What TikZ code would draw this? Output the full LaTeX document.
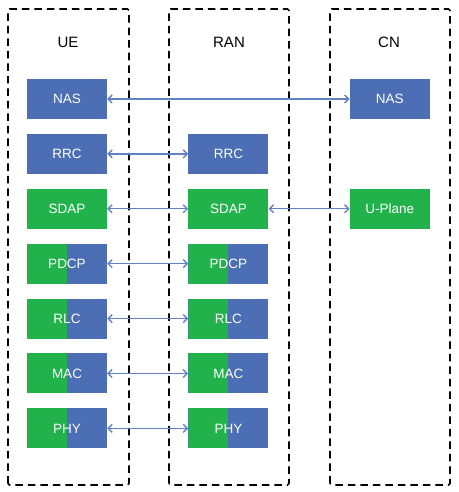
\documentclass[tikz,border=0pt]{standalone}
\usepackage{fontspec}
\setmainfont{Liberation Sans}
\usepackage{xcolor}
\usetikzlibrary{arrows.meta, positioning}

\definecolor{layerblue}{RGB}{76,110,180}
\definecolor{layergreen}{RGB}{34,178,76}
\definecolor{linkblue}{RGB}{100,128,196}

\begin{document}
\begin{tikzpicture}[x=1pt, y=1pt, node distance=14.5pt and 81pt]
        \tikzstyle{layerbox} = [rectangle, minimum width=80pt, minimum height=40pt, inner sep=0pt, text centered, text=white, font=\fontsize{13.5}{16}\selectfont]
        \tikzstyle{cplane} = [layerbox, fill=layerblue]
        \tikzstyle{uplane} = [layerbox, fill=layergreen]
        \tikzstyle{mixed} = [layerbox, fill=layerblue, path picture={\fill[layergreen] (path picture bounding box.south west) rectangle (path picture bounding box.north);}]
        \tikzstyle{netbox} = [draw=black, line width=1.7pt, dash pattern=on 7.5pt off 5pt, rounded corners=1.5pt]
        \tikzstyle{nettitle} = [font=\fontsize{15}{18}\selectfont]
        \tikzstyle{link} = [draw=linkblue, line width=1.4pt, {Straight Barb[length=4pt,width=8pt]}-{Straight Barb[length=4pt,width=8pt]}]

        \useasboundingbox (0,0) rectangle (458,492);

        % domains
        \draw [netbox] (8,7) rectangle (129,483);
        \draw [netbox] (169,7) rectangle (289,483);
        \draw [netbox] (330,7) rectangle (450,483);
        \node (uetitle) [nettitle] at (68,450) {UE};
        \node (rantitle) [nettitle] at (229,450) {RAN};
        \node (cntitle) [nettitle] at (389,450) {CN};

        % UE stack
        \node (uenas) [cplane] at (67,393) {NAS};
        \node (uerrc) [cplane, below=of uenas] {RRC};
        \node (uesdap) [uplane, below=of uerrc] {SDAP};
        \node (uepdcp) [mixed, below=of uesdap] {PDCP};
        \node (uerlc) [mixed, below=of uepdcp] {RLC};
        \node (uemac) [mixed, below=of uerlc] {MAC};
        \node (uephy) [mixed, below=of uemac] {PHY};

        % RAN stack
        \node (ranrrc) [cplane, right=of uerrc] {RRC};
        \node (ransdap) [uplane, right=of uesdap] {SDAP};
        \node (ranpdcp) [mixed, right=of uepdcp] {PDCP};
        \node (ranrlc) [mixed, right=of uerlc] {RLC};
        \node (ranmac) [mixed, right=of uemac] {MAC};
        \node (ranphy) [mixed, right=of uephy] {PHY};

        % CN
        \node (cnup) [uplane, right=of ransdap] {U-Plane};
        \node (cnnas) [cplane] at (cnup |- uenas) {NAS};

        \draw [link] (uenas) -- (cnnas);
        \draw [link] (uerrc) -- (ranrrc);
        \draw [link] (uesdap) -- (ransdap);
        \draw [link] (ransdap) -- (cnup);
        \draw [link] (uepdcp) -- (ranpdcp);
        \draw [link] (uerlc) -- (ranrlc);
        \draw [link] (uemac) -- (ranmac);
        \draw [link] (uephy) -- (ranphy);
    \end{tikzpicture}
\end{document}
